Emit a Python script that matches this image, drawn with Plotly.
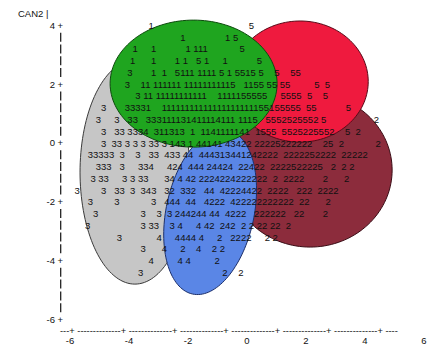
import numpy as np
import plotly.graph_objects as go

# ---------------- data ----------------
# CAN2 value of each printed line of the line-printer plot
row_can2 = [4.0, 3.6, 3.2, 2.8, 2.4, 2.0, 1.6, 1.2, 0.8, 0.4, 0.0,
            -0.4, -0.8, -1.2, -1.6, -2.0, -2.4, -2.8, -3.2, -3.6, -4.0, -4.4]

# printed class symbols on each line (1..5 = group of the observation)
row_symbols = [
    " " * 32 + "1" + " " * 36 + "5",
    " " * 44 + "1" + " " * 15 + "1 5",
    " " * 26 + "1" + " " * 5 + "1" + " " * 11 + "1 111" + " " * 12 + "5",
    " " * 25 + "1" + " " * 6 + "1" + " " * 7 + "1 1" + " " * 3 + "5 1" + " " * 5 + "1" + " " * 11 + "5",
    " " * 24 + "3" + " " * 7 + "1" + " " * 2 + "1" + " " * 3 + "5111 1111 5 1 5515 5" + " " * 4 + "5" + " " * 4 + "55",
    " " * 23 + "3" + " " * 4 + "11 111111 11111111115" + " " * 3 + "1155 55 55" + " " * 9 + "5" + " " * 2 + "5",
    " " * 27 + "3 11 11111111111" + " " * 4 + "1111155555" + " " * 5 + "5555" + " " * 2 + "5" + " " * 4 + "5",
    " " * 14 + "3" + " " * 7 + "33331" + " " * 4 + "1111111111" "1111111111" "1" "55155555" + " " * 2 + "55" + " " * 11 + "5",
    " " * 12 + "3" + " " * 5 + "3" + " " * 3 + "33" + " " * 3 + "333111131411114111 1115" + " " * 3 + "5552525552 5" + " " * 18 + "2",
    " " * 14 + "3" + " " * 3 + "33 3334  311313  1  1141111141  1555  5525225552" + " " * 4 + "5" + " " * 2 + "2",
    " " * 14 + "3" + " " * 2 + "33 3 3 3 33 3 143 1 44141 43422 22225222222" + " " * 4 + "25" + " " * 2 + "2" + " " * 12 + "2",
    " " * 9 + "33333" + " " * 2 + "3" + " " * 4 + "3" + " " * 3 + "33" + " " * 2 + "433 44  444313441242222  2222252222  22222",
    " " * 12 + "333" + " " * 3 + "3" + " " * 5 + "334" + " " * 5 + "424" + " " * 2 + "444 24424  22422  2222522225" + " " * 3 + "2" + " " * 2 + "2 2",
    " " * 10 + "3 33" + " " * 5 + "3 3 33" + " " * 6 + "34 4 42 2224224222222  2  2222" + " " * 7 + "2" + " " * 6 + "2",
    " " * 4 + "3" + " " * 8 + "3" + " " * 3 + "33" + " " * 2 + "3" + " " * 2 + "343" + " " * 3 + "32" + " " * 2 + "332" + " " * 3 + "44" + " " * 2 + "42224422" + " " * 2 + "2222" + " " * 3 + "222" + " " * 2 + "2222",
    " " * 9 + "3" + " " * 8 + "3" + " " * 12 + "3" + " " * 3 + "444" + " " * 2 + "44" + " " * 3 + "4222" + " " * 2 + "422222222222" + " " * 2 + "22" + " " * 6 + "2",
    " " * 11 + "3" + " " * 16 + "3" + " " * 4 + "3" + " " * 2 + "3 244244 44" + " " * 2 + "4222" + " " * 3 + "222222" + " " * 3 + "22" + " " * 7 + "2",
    " " * 8 + "3" + " " * 19 + "3 33" + " " * 4 + "3 4" + " " * 5 + "4 42" + " " * 2 + "242  2 2 22 22" + " " * 2 + "2",
    " " * 20 + "3" + " " * 13 + "4" + " " * 5 + "4444 4" + " " * 5 + "2" + " " * 3 + "2222" + " " * 5 + "2 2",
    " " * 29 + "3" + " " * 6 + "4" + " " * 5 + "2" + " " * 4 + "4" + " " * 4 + "2 2",
    " " * 32 + "4" + " " * 9 + "4 4" + " " * 9 + "2",
    " " * 28 + "3" + " " * 30 + "2" + " " * 4 + "2",
]

x_tick_vals = [-6, -4, -2, 0, 2, 4, 6]
x_tick_text = ["-6", "-4", "-2", "0", "2", "4", "6"]
y_tick_vals = [4, 2, 0, -2, -4, -6]
y_tick_text = ["4 +", "2 +", "0 +", "-2 +", "-4 +", "-6 +"]
x_rule_text = "---+" + (" " + "-" * 14 + "+") * 6 + " ----"
y_label_text = "CAN2 |"

# class ellipses (drawn bottom to top): centre, half-widths, tilt (deg, clockwise)
ell_group = ["3", "2", "5", "4", "1"]
ell_cx = [-3.80, 2.14, 1.80, -1.25, -1.81]
ell_cy = [-0.99, -0.92, 2.09, -2.35, 2.02]
ell_rx = [1.86, 2.78, 2.31, 1.49, 2.83]
ell_ry = [3.81, 2.62, 2.06, 2.85, 2.16]
ell_tilt = [0, 0, 0, 12, 0]
ell_fill = ["#c6c6c6", "#8c2c3c", "#ef1a3e", "#5a86e6", "#1fa51f"]
ell_line = ["#3a3a3a", "#3a0d16", "#5a0a18", "#1c2f6a", "#0d4a0d"]

# ---------------- figure ----------------
FONT = "Liberation Sans, Arial, sans-serif"
fig = go.Figure()
fig.add_trace(go.Scatter(x=[None], y=[None], showlegend=False, hoverinfo="skip"))


def ellipse_path(cx, cy, rx, ry, tilt):
    t = np.linspace(0, 2 * np.pi, 145)
    th = np.deg2rad(tilt)
    ux, uy = np.sin(th), np.cos(th)
    vx, vy = np.cos(th), -np.sin(th)
    xs = cx + rx * np.cos(t) * vx + ry * np.sin(t) * ux
    ys = cy + rx * np.cos(t) * vy + ry * np.sin(t) * uy
    return "M " + " L ".join(f"{a:.4f},{b:.4f}" for a, b in zip(xs, ys)) + " Z"


shapes = []
for i in range(len(ell_group)):
    shapes.append(dict(type="path", xref="x", yref="y",
                       path=ellipse_path(ell_cx[i], ell_cy[i], ell_rx[i], ell_ry[i], ell_tilt[i]),
                       fillcolor=ell_fill[i], line=dict(color=ell_line[i], width=1), layer="above"))

# dashed vertical axis made of '|' marks between tick rows
AXIS_X = -6.315
for hi in y_tick_vals[:-1]:
    shapes.append(dict(type="line", xref="x", yref="y", x0=AXIS_X, x1=AXIS_X,
                       y0=hi - 0.247, y1=hi - 1.753,
                       line=dict(color="#111111", width=1.2, dash="9px,2.76px")))

annotations = []
ROW_X = -6.254
for yv, txt in zip(row_can2, row_symbols):
    annotations.append(dict(x=ROW_X, y=yv, xref="x", yref="y", xanchor="left", yanchor="middle",
                            text=txt.replace(" ", "\u00a0"), showarrow=False, borderpad=0,
                            font=dict(family=FONT, size=9.5, color="#111111")))
annotations.append(dict(x=-6.373, y=-6.395, xref="x", yref="y", xanchor="left", yanchor="middle",
                        text=x_rule_text, showarrow=False, borderpad=0,
                        font=dict(family=FONT, size=9.3, color="#111111")))
annotations.append(dict(x=-6.71, y=4.4, xref="x", yref="y", xanchor="right", yanchor="middle",
                        text=y_label_text, showarrow=False, borderpad=0,
                        font=dict(family=FONT, size=9.5, color="#111111")))

fig.update_layout(
    width=448, height=357, margin=dict(l=0, r=0, t=0, b=0),
    paper_bgcolor="white", plot_bgcolor="white", showlegend=False,
    shapes=shapes, annotations=annotations,
    xaxis=dict(range=[-8.373, 6.814], showgrid=False, zeroline=False, showline=False,
               tickvals=x_tick_vals, ticktext=x_tick_text, ticks="", anchor="free",
               position=0.067, automargin=False,
               tickfont=dict(family=FONT, size=9.5, color="#111111"), fixedrange=True),
    yaxis=dict(range=[-7.279, 4.864], showgrid=False, zeroline=False, showline=False,
               tickvals=y_tick_vals, ticktext=y_tick_text, ticks="", anchor="free",
               position=0.141, automargin=False,
               tickfont=dict(family=FONT, size=9.5, color="#111111"), fixedrange=True),
)

fig.write_html("out.html")
